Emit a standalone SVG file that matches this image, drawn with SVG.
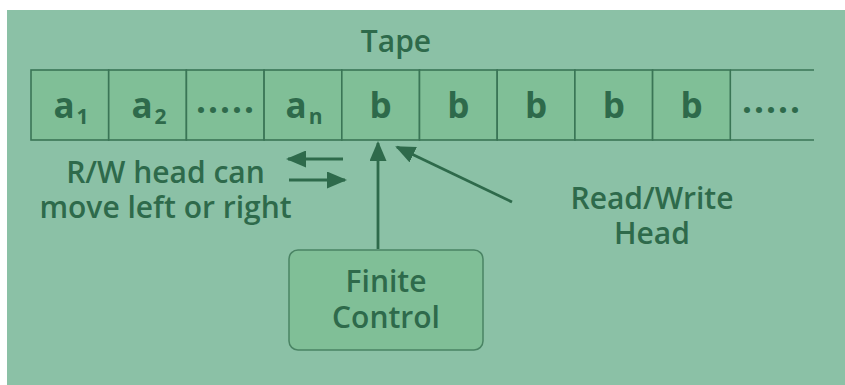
<svg xmlns="http://www.w3.org/2000/svg" width="845" height="385" viewBox="0 0 845 385">
<defs>
<style>
.t{font-family:"Open Sans","Liberation Sans",sans-serif;font-weight:600;fill:#2e6a4b;text-anchor:middle;font-size:30px}
.sym{font-family:"Open Sans","Liberation Sans",sans-serif;font-weight:700;fill:#2e6a4b;text-anchor:middle;font-size:35px}
.cell{fill:#80bf97;stroke:#3a7556;stroke-width:1.6}
.ln{stroke:#2e6a4b;stroke-width:2.8;fill:none}
</style>
<marker id="ah2" viewBox="0 0 10 10" refX="9" refY="5" markerWidth="20" markerHeight="17" markerUnits="userSpaceOnUse" orient="auto" preserveAspectRatio="none">
<path d="M0,0 L10,5 L0,10 z" fill="#2e6a4b"/>
</marker>
</defs>
<rect x="0" y="0" width="845" height="385" fill="#ffffff"/>
<rect x="7" y="10" width="838" height="375" fill="#8bc1a6"/>
<text class="t" x="396" y="52" font-size="29">Tape</text>
<g id="tape">
<rect class="cell" x="31" y="70" width="77.7" height="70"/>
<rect class="cell" x="108.7" y="70" width="77.7" height="70"/>
<rect class="cell" x="186.4" y="70" width="77.7" height="70"/>
<rect class="cell" x="264.1" y="70" width="77.7" height="70"/>
<rect class="cell" x="341.8" y="70" width="77.7" height="70"/>
<rect class="cell" x="419.5" y="70" width="77.7" height="70"/>
<rect class="cell" x="497.2" y="70" width="77.7" height="70"/>
<rect class="cell" x="574.9" y="70" width="77.7" height="70"/>
<rect class="cell" x="652.6" y="70" width="77.7" height="70"/>
<line x1="730.3" y1="70" x2="814" y2="70" stroke="#3a7556" stroke-width="1.6"/>
<line x1="730.3" y1="140" x2="814" y2="140" stroke="#3a7556" stroke-width="1.6"/>
<text class="sym" x="71" y="118">a<tspan font-size="21" dx="2" dy="6">1</tspan></text>
<text class="sym" x="149" y="118">a<tspan font-size="21" dx="2" dy="6">2</tspan></text>
<text class="sym" x="226" y="113" letter-spacing="2">.....</text>
<text class="sym" x="304" y="118">a<tspan font-size="21" dx="2" dy="6">n</tspan></text>
<text class="sym" x="380.7" y="118">b</text>
<text class="sym" x="458.4" y="118">b</text>
<text class="sym" x="536.1" y="118">b</text>
<text class="sym" x="613.8" y="118">b</text>
<text class="sym" x="691.5" y="118">b</text>
<text class="sym" x="772" y="113" letter-spacing="2">.....</text>
</g>
<g id="finite-control">
<rect x="289" y="250" width="194" height="100" rx="9" fill="#80bf97" stroke="#4a8464" stroke-width="1.5"/>
<text class="t" x="386" y="292">Finite</text>
<text class="t" x="386" y="328">Control</text>
</g>
<g id="rw-label">
<text class="t" x="165.5" y="183">R/W head can</text>
<text class="t" x="165.5" y="218">move left or right</text>
</g>
<g id="head-label">
<text class="t" x="652" y="209">Read/Write</text>
<text class="t" x="652" y="244">Head</text>
</g>
<g id="connectors">
<line class="ln" x1="343" y1="159" x2="288" y2="159" marker-end="url(#ah2)"/>
<line class="ln" x1="289" y1="180" x2="345" y2="180" marker-end="url(#ah2)"/>
<line class="ln" x1="378" y1="249" x2="378" y2="143" marker-end="url(#ah2)"/>
<line class="ln" x1="512" y1="202" x2="397" y2="147" marker-end="url(#ah2)"/>
</g>
</svg>
